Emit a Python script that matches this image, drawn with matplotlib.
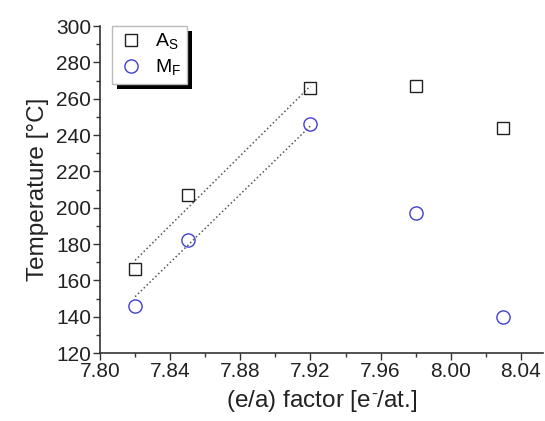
import matplotlib.pyplot as plt
import matplotlib.patheffects as pe
from matplotlib.ticker import MultipleLocator
import numpy as np

plt.rcParams['font.family'] = ['Liberation Sans', 'DejaVu Sans']
plt.rcParams['mathtext.fontset'] = 'custom'
plt.rcParams['mathtext.rm'] = 'Liberation Sans'

# data
ea = [7.82, 7.85, 7.92, 7.98, 8.03]
a_s = [166, 207, 266, 267, 244]
m_f = [146, 182, 246, 197, 140]

# dotted guide lines (linear trends over first three points)
fit_x = [7.82, 7.92]
fit_as = [171, 267]
fit_mf = [151, 245]

fig = plt.figure(figsize=(5.45, 4.21), dpi=100)
ax = fig.add_axes([100/545, 1-353/421, 443/545, 327/421])

ax.plot(fit_x, fit_as, ':', color='#555555', linewidth=1.1)
ax.plot(fit_x, fit_mf, ':', color='#555555', linewidth=1.1)
ax.plot(ea, a_s, 's', markersize=9, markerfacecolor='none',
        markeredgecolor='#222222', markeredgewidth=1.0,
        label=r'A$_\mathregular{S}$')
ax.plot(ea, m_f, 'o', markersize=9.5, markerfacecolor='none',
        markeredgecolor='#4040d0', markeredgewidth=1.0,
        label=r'M$_\mathregular{F}$')

ax.set_xlim(7.80, 8.0526)
ax.set_ylim(120, 300)
ax.xaxis.set_major_locator(MultipleLocator(0.04))
ax.xaxis.set_minor_locator(MultipleLocator(0.02))
ax.yaxis.set_major_locator(MultipleLocator(20))
ax.yaxis.set_minor_locator(MultipleLocator(10))
ax.xaxis.set_major_formatter(plt.FormatStrFormatter('%.2f'))

ax.spines['top'].set_visible(False)
ax.spines['right'].set_visible(False)
for s in ('left', 'bottom'):
    ax.spines[s].set_color('#333333')
    ax.spines[s].set_linewidth(1.2)

ax.tick_params(which='major', direction='out', length=5, width=1.0,
               color='#333333', labelsize=15, labelcolor='#222222', pad=1.5)
ax.tick_params(which='minor', direction='out', length=3, width=1.0,
               color='#333333')

ax.set_xlabel('(e/a) factor [e$^{\\bar{\\ }}$/at.]', fontsize=17.5, color='#222222', labelpad=5)
ax.set_ylabel('Temperature [°C]', fontsize=17.5, color='#222222', labelpad=5)

leg = ax.legend(loc='upper left', bbox_to_anchor=(0.027, 1.0), borderaxespad=0,
                fancybox=False, shadow=False, framealpha=1.0,
                edgecolor='#bbbbbb', fontsize=14, handletextpad=0.5,
                borderpad=0.3, labelspacing=0.3, handlelength=1.4)
frame = leg.get_frame()
frame.set_linewidth(1.0)
frame.set_path_effects([pe.SimplePatchShadow(offset=(3.5, -3.5), shadow_rgbFace='black', alpha=1.0),
                        pe.Normal()])

fig.savefig('out.png', dpi=100)
